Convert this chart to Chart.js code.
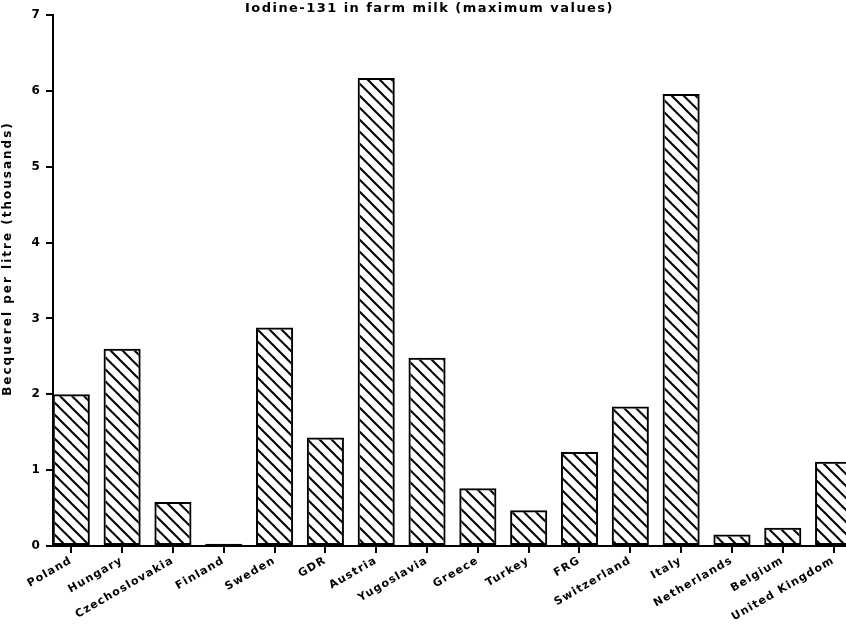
<!DOCTYPE html>
<html>
<head>
<meta charset="utf-8">
<script src="https://cdn.jsdelivr.net/npm/chart.js@4.4.1/dist/chart.umd.min.js"></script>
<style>
  html, body { margin: 0; padding: 0; background: #fff; overflow: hidden; }
  #wrap { width: 859px; height: 624px; }
</style>
</head>
<body>
<div id="wrap"><canvas id="c" width="859" height="624"></canvas></div>
<script>
// Maximum iodine-131 levels measured in farm milk, by country
const countries = ['Poland', 'Hungary', 'Czechoslovakia', 'Finland', 'Sweden', 'GDR', 'Austria',
  'Yugoslavia', 'Greece', 'Turkey', 'FRG', 'Switzerland', 'Italy', 'Netherlands', 'Belgium',
  'United Kingdom'];
// Becquerel per litre, in thousands
const iodineMax = [2.0, 2.6, 0.58, 0.03, 2.88, 1.43, 6.17, 2.48, 0.76, 0.47, 1.24, 1.84, 5.96, 0.15, 0.24, 1.11];
const yTicks = [0, 1, 2, 3, 4, 5, 6, 7];

const titleText = 'Iodine-131 in farm milk (maximum values)';
const yTitleText = 'Becquerel per litre (thousands)';

const FONT = "'DejaVu Sans', Verdana, sans-serif";
Chart.defaults.font.family = FONT;
Chart.defaults.color = '#000';

const canvas = document.getElementById('c');
const ctx = canvas.getContext('2d');

// diagonal "\\\" hatch used to fill the bars
function makeHatch() {
  const s = 12;
  const tile = document.createElement('canvas');
  tile.width = s; tile.height = s;
  const g = tile.getContext('2d');
  g.strokeStyle = '#000';
  g.lineWidth = 2;
  for (const k of [-1, 0, 1]) {
    g.beginPath();
    g.moveTo(-1, k * s - 1);
    g.lineTo(s + 1, s + k * s + 1);
    g.stroke();
  }
  return ctx.createPattern(tile, 'repeat');
}

// slightly tracked lettering
const spacing = {
  id: 'tracking',
  setDefault(chart) { chart.ctx.letterSpacing = '1.2px'; },
  beforeUpdate(chart) { this.setDefault(chart); },
  beforeLayout(chart) { this.setDefault(chart); },
  beforeDraw(chart) {
    this.setDefault(chart);
    const tb = chart.titleBlock;
    if (tb && !tb._tracked) {
      const orig = tb.draw.bind(tb);
      tb.draw = function () {
        const c = chart.ctx; const prev = c.letterSpacing;
        c.letterSpacing = '1.45px'; orig(); c.letterSpacing = prev;
      };
      tb._tracked = true;
    }
    const ys = chart.scales.y;
    if (ys && !ys._tracked) {
      const origT = ys.drawTitle.bind(ys);
      ys.drawTitle = function () {
        const c = chart.ctx; const prev = c.letterSpacing;
        c.save();
        c.letterSpacing = '2px';
        c.translate(0, -22);
        origT();
        c.restore();
        c.letterSpacing = prev;
      };
      ys._tracked = true;
    }
  }
};

new Chart(ctx, {
  type: 'bar',
  data: {
    datasets: [{
      data: iodineMax.map((v, i) => ({ x: i, y: v })),
      backgroundColor: makeHatch(),
      borderColor: '#000',
      borderWidth: 2,
      borderSkipped: false,
      categoryPercentage: 1,
      barPercentage: 0.73
    }]
  },
  options: {
    responsive: false,
    devicePixelRatio: 1,
    animation: false,
    layout: { padding: 0 },
    plugins: {
      legend: { display: false },
      tooltip: { enabled: false },
      title: {
        display: true,
        text: titleText,
        font: { size: 13, weight: 'bold' },
        padding: { top: 1, bottom: -1.6 }
      }
    },
    scales: {
      x: {
        type: 'linear',
        min: -0.36,
        max: 15.5,
        offset: false,
        afterBuildTicks(axis) { axis.ticks = countries.map((_, i) => ({ value: i })); },
        afterFit(axis) { axis.height = 78; },
        grid: {
          offset: false,
          drawOnChartArea: false,
          drawTicks: true,
          tickLength: 7,
          color: '#000',
          lineWidth: 2
        },
        border: { display: true, color: '#000', width: 2 },
        ticks: {
          autoSkip: false,
          maxRotation: 30,
          minRotation: 30,
          padding: 1,
          font: { size: 11, weight: 'bold' },
          callback: (value) => countries[Math.round(value)]
        }
      },
      y: {
        min: 0,
        max: 7,
        afterBuildTicks(axis) { axis.ticks = yTicks.map(v => ({ value: v })); },
        afterFit(axis) { axis.width = 53; },
        grid: {
          drawOnChartArea: false,
          drawTicks: true,
          tickLength: 7,
          color: '#000',
          lineWidth: 2
        },
        border: { display: true, color: '#000', width: 2 },
        ticks: {
          padding: 5,
          font: { size: 12, weight: 'bold' }
        },
        title: {
          display: true,
          text: yTitleText,
          font: { size: 12, weight: 'bold' },
          padding: { top: 1, bottom: 0 }
        }
      }
    }
  },
  plugins: [spacing]
});
</script>
</body>
</html>
